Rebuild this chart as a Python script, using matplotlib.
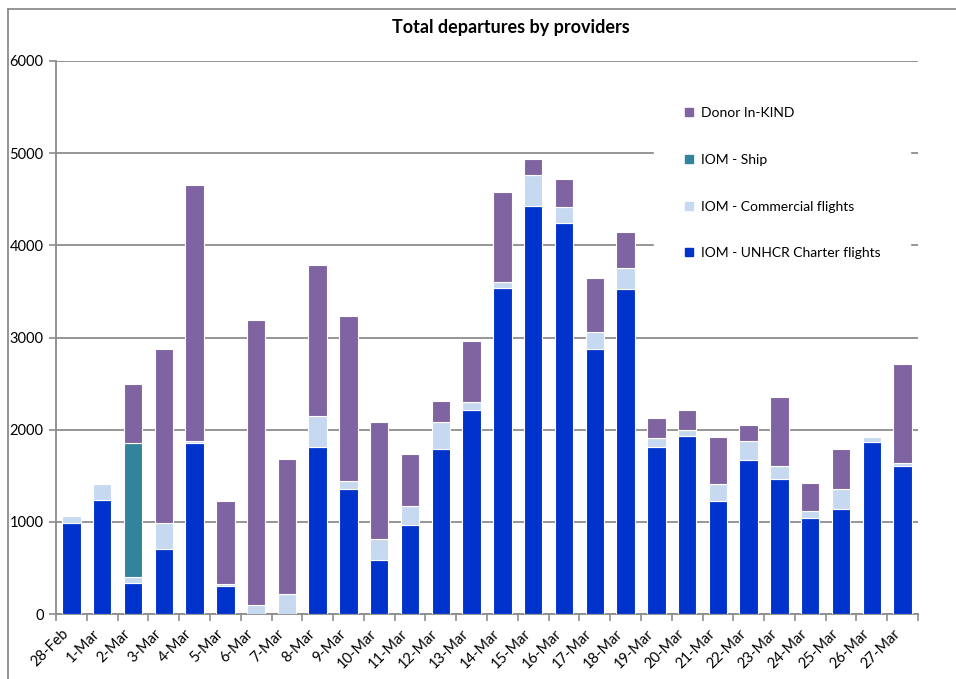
import matplotlib.pyplot as plt
import numpy as np
from matplotlib.lines import Line2D

dates = ["28-Feb", "1-Mar", "2-Mar", "3-Mar", "4-Mar", "5-Mar", "6-Mar", "7-Mar",
         "8-Mar", "9-Mar", "10-Mar", "11-Mar", "12-Mar", "13-Mar", "14-Mar",
         "15-Mar", "16-Mar", "17-Mar", "18-Mar", "19-Mar", "20-Mar", "21-Mar",
         "22-Mar", "23-Mar", "24-Mar", "25-Mar", "26-Mar", "27-Mar"]

charter = [990, 1238, 340, 700, 1855, 300, 0, 0,
           1815, 1355, 585, 970, 1790, 2215, 3535,
           4430, 4245, 2870, 3525, 1810, 1930, 1225,
           1675, 1460, 1045, 1135, 1870, 1610]
commercial = [70, 170, 58, 290, 20, 25, 97, 217,
              337, 85, 224, 200, 290, 90, 70,
              332, 176, 187, 224, 95, 70, 183,
              200, 150, 70, 222, 50, 33]
ship = [0, 0, 1462, 0, 0, 0, 0, 0,
        0, 0, 0, 0, 0, 0, 0,
        0, 0, 0, 0, 0, 0, 0,
        0, 0, 0, 0, 0, 0]
donor = [0, 0, 640, 1880, 2780, 902, 3090, 1462,
         1635, 1790, 1278, 570, 228, 653, 979,
         180, 302, 593, 395, 220, 217, 513,
         172, 747, 303, 434, 0, 1072]

series = [
    ("IOM - UNHCR Charter flights", charter, "#0033CC"),
    ("IOM - Commercial flights", commercial, "#C6D9F0"),
    ("IOM - Ship", ship, "#31849B"),
    ("Donor In-KIND", donor, "#8064A2"),
]

plt.rcParams['font.family'] = ['Lato', 'DejaVu Sans']

fig = plt.figure(figsize=(9.56, 6.79), dpi=100)
W, H = 956, 679
ax = fig.add_axes([56 / W, 1 - 614 / H, (918 - 56) / W, (614 - 61) / H])

x = np.arange(len(dates))
bottom = np.zeros(len(dates))
for name, vals, col in series:
    v = np.array(vals, dtype=float)
    ax.bar(x, v, 0.6, bottom=bottom, color=col, edgecolor="white",
           linewidth=0.8, label=name, zorder=3)
    bottom += v

ax.set_xlim(-0.5, len(dates) - 0.5)
ax.set_ylim(0, 6000)
ax.set_yticks(range(0, 6001, 1000))
ax.yaxis.grid(True, color="#8C8C8C", linewidth=1.3, zorder=0)
ax.set_axisbelow(True)

ax.set_xticks(x)
ax.set_xticklabels(dates, rotation=45, ha="right", fontsize=10.5)
ax.set_xticks(np.arange(-0.5, len(dates)), minor=True)
ax.tick_params(axis="x", which="major", length=0, pad=9)
ax.tick_params(axis="x", which="minor", length=5, color="#8C8C8C", width=1.2)
ax.tick_params(axis="y", length=5, color="#8C8C8C", width=1.2, labelsize=10.5, pad=4)

for s in ["top", "right"]:
    ax.spines[s].set_visible(False)
for s in ["left", "bottom"]:
    ax.spines[s].set_color("#8C8C8C")
    ax.spines[s].set_linewidth(1.3)

handles = [Line2D([0], [0], marker="s", linestyle="none", markersize=6,
                  markerfacecolor=col, markeredgecolor=col)
           for _, _, col in reversed(series)]
labels = [name for name, _, _ in reversed(series)]
leg = ax.legend(handles, labels, loc="upper left",
                bbox_to_anchor=((654 - 56) / 862, (614 - 78) / 553),
                frameon=True, fontsize=10, labelspacing=2.5,
                handlelength=0.8, handletextpad=0.5, borderpad=2.1,
                borderaxespad=0)
leg.get_frame().set_facecolor("white")
leg.get_frame().set_edgecolor("white")
leg.get_frame().set_alpha(1)
leg.set_zorder(5)

fig.text(511 / W, 1 - 27 / H, "Total departures by providers",
         ha="center", va="center", fontsize=13, fontweight="bold")

# chart area border
fig.add_artist(Line2D([8 / W, 8 / W], [0, 1 - 9 / H], transform=fig.transFigure,
                      color="#8C8C8C", linewidth=1.3))
fig.add_artist(Line2D([8 / W, 1], [1 - 9 / H, 1 - 9 / H], transform=fig.transFigure,
                      color="#8C8C8C", linewidth=1.3))

fig.savefig("out.png", dpi=100)
